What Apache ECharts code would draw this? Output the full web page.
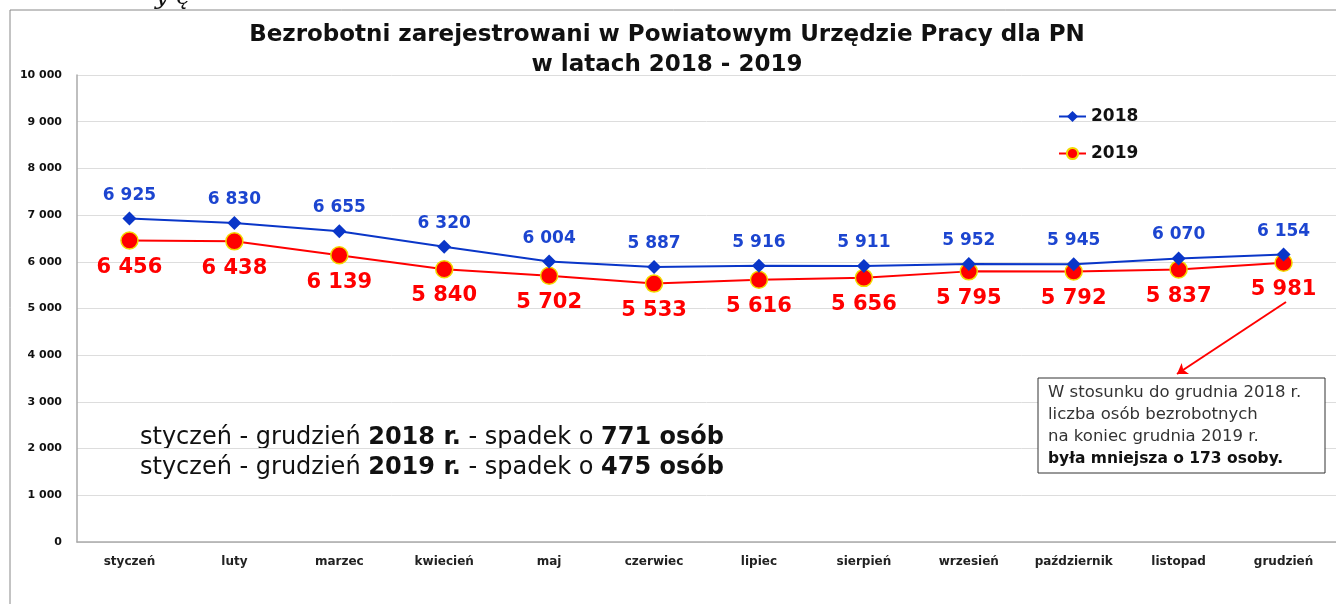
<!DOCTYPE html>
<html>
<head>
<meta charset="utf-8">
<script src="https://cdn.jsdelivr.net/npm/echarts@6/dist/echarts.min.js"></script>
<style>
  html, body { margin: 0; padding: 0; background: #fff; }
  #chart { width: 1336px; height: 604px; }
</style>
</head>
<body>
<div id="chart"></div>
<script>
const months = ['styczeń', 'luty', 'marzec', 'kwiecień', 'maj', 'czerwiec', 'lipiec',
  'sierpień', 'wrzesień', 'październik', 'listopad', 'grudzień'];
const y2018 = [6925, 6830, 6655, 6320, 6004, 5887, 5916, 5911, 5952, 5945, 6070, 6154];
const y2019 = [6456, 6438, 6139, 5840, 5702, 5533, 5616, 5656, 5795, 5792, 5837, 5981];
const yTicks = [0, 1000, 2000, 3000, 4000, 5000, 6000, 7000, 8000, 9000, 10000];

// the source image is stretched sideways, DejaVu Sans gets close to its widths
const font = '"DejaVu Sans", "Open Sans", sans-serif';
const fmt = v => String(v).replace(/\B(?=(\d{3})+(?!\d))/g, ' ');

const chart = echarts.init(document.getElementById('chart'));

const option = {
  animation: false,
  textStyle: { fontFamily: font },
  title: {
    text: 'Bezrobotni zarejestrowani w Powiatowym Urzędzie Pracy dla PN\nw latach 2018 - 2019',
    left: 662,
    textAlign: 'center',
    top: 15,
    textStyle: { fontSize: 23, fontWeight: 'bold', color: '#111', lineHeight: 30, fontFamily: font }
  },
  legend: {
    orient: 'vertical',
    left: 1053,
    top: 103,
    itemGap: 20,
    itemWidth: 27,
    itemHeight: 14,
    textStyle: { fontSize: 17, fontWeight: 'bold', color: '#111', fontFamily: font },
    data: ['2018', '2019']
  },
  grid: { left: 77, top: 75, width: 1266, height: 467 },
  xAxis: {
    type: 'category',
    data: months,
    axisLine: { lineStyle: { color: '#aaa', width: 1.5 } },
    axisTick: { show: false },
    axisLabel: { fontSize: 12, fontWeight: 'bold', color: '#222', margin: 14, interval: 0 }
  },
  yAxis: {
    type: 'value',
    min: yTicks[0],
    max: yTicks[yTicks.length - 1],
    interval: 1000,
    axisLine: { show: true, lineStyle: { color: '#aaa', width: 1.5 } },
    axisTick: { show: false },
    splitLine: { lineStyle: { color: '#ddd', width: 1 } },
    axisLabel: { fontSize: 11, fontWeight: 'bold', color: '#111', margin: 15, formatter: fmt }
  },
  series: [
    {
      name: '2018',
      type: 'line',
      data: y2018,
      symbol: 'diamond',
      symbolSize: 14,
      itemStyle: { color: '#0a36c8' },
      lineStyle: { color: '#0a36c8', width: 2 },
      label: {
        show: true, position: 'top', distance: 8,
        formatter: p => fmt(p.value),
        fontSize: 17, fontWeight: 'bold', color: '#1c45d0', fontFamily: font
      },
      z: 3
    },
    {
      name: '2019',
      type: 'line',
      data: y2019,
      symbol: 'circle',
      symbolSize: 17,
      itemStyle: { color: '#ff0000', borderColor: '#f2d800', borderWidth: 1.5 },
      lineStyle: { color: '#ff0000', width: 2 },
      label: {
        show: true, position: 'bottom', distance: 7,
        formatter: p => fmt(p.value),
        fontSize: 21, fontWeight: 'bold', color: '#ff0000', fontFamily: font
      },
      markLine: {
        silent: true,
        symbol: ['none', 'arrow'],
        symbolSize: 10,
        label: { show: false },
        lineStyle: { color: '#ff0000', width: 2, type: 'solid' },
        data: [[{ x: 1286, y: 302 }, { x: 1177, y: 374 }]]
      },
      z: 2
    }
  ],
  graphic: [
    {
      type: 'polyline',
      shape: { points: [[10, 620], [10, 10], [1340, 10]] },
      style: { stroke: '#888', lineWidth: 1, fill: null },
      silent: true
    },
    {
      type: 'text',
      left: 155, top: -14,
      style: { text: 'y ę', font: 'italic 24px "DejaVu Serif", serif', fill: '#111' }
    },
    {
      type: 'text',
      left: 140, top: 426,
      style: {
        text: '{n|styczeń - grudzień }{b|2018 r.}{n| - spadek o }{b|771 osób}\n{n|styczeń - grudzień }{b|2019 r.}{n| - spadek o }{b|475 osób}',
        rich: {
          n: { fontSize: 24, fontFamily: font, fill: '#111', lineHeight: 30 },
          b: { fontSize: 24, fontFamily: font, fontWeight: 'bold', fill: '#111', lineHeight: 30 }
        }
      }
    },
    {
      type: 'rect',
      shape: { x: 1038, y: 378, width: 287, height: 95 },
      style: { fill: '#fff', stroke: '#333', lineWidth: 1 },
      z: 10
    },
    {
      type: 'text',
      left: 1048, top: 384,
      z: 11,
      style: {
        text: '{n|W stosunku do grudnia 2018 r.}\n{n|liczba osób bezrobotnych}\n{n|na koniec grudnia 2019 r.}\n{b|była mniejsza o 173 osoby.}',
        rich: {
          n: { fontSize: 16.5, fontFamily: font, fill: '#333', lineHeight: 22 },
          b: { fontSize: 15.5, fontFamily: font, fontWeight: 'bold', fill: '#111', lineHeight: 22 }
        }
      }
    }
  ]
};

chart.setOption(option);
</script>
</body>
</html>
